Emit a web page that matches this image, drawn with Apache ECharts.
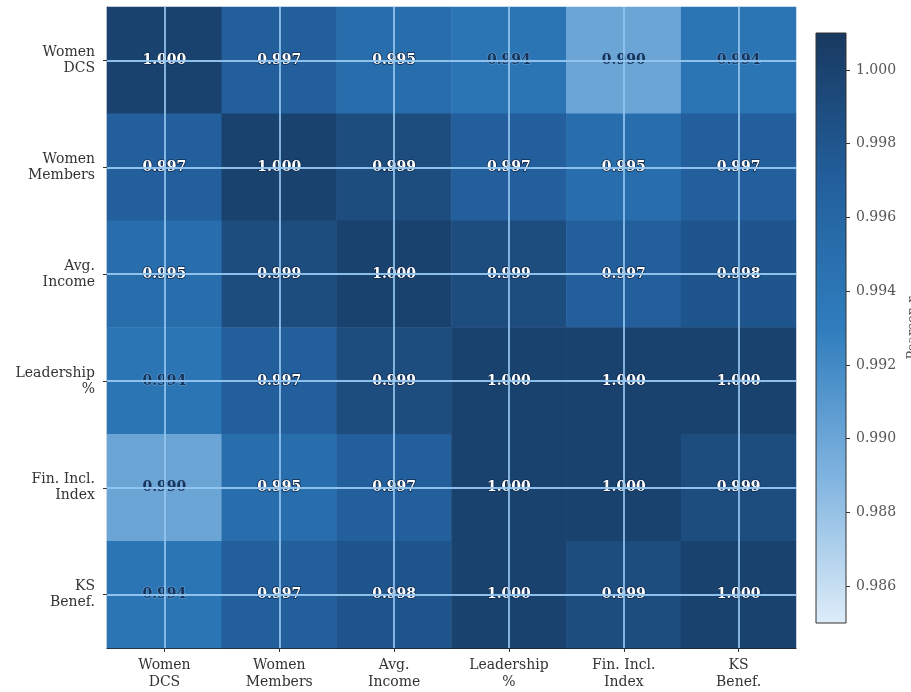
<!DOCTYPE html>
<html>
<head>
<meta charset="utf-8">
<script src="https://cdn.jsdelivr.net/npm/echarts@6/dist/echarts.min.js"></script>
<style>
  html, body { margin: 0; padding: 0; background: #fff; }
  #chart { width: 911px; height: 692px; }
</style>
</head>
<body>
<div id="chart"></div>
<script>
// Indicators compared in the correlation matrix
const variables = [
  'Women\nDCS',
  'Women\nMembers',
  'Avg.\nIncome',
  'Leadership\n%',
  'Fin. Incl.\nIndex',
  'KS\nBenef.'
];

// Pearson correlation coefficients, one row per indicator
const rowWomenDCS     = [1.000, 0.997, 0.995, 0.994, 0.990, 0.994];
const rowWomenMembers = [0.997, 1.000, 0.999, 0.997, 0.995, 0.997];
const rowAvgIncome    = [0.995, 0.999, 1.000, 0.999, 0.997, 0.998];
const rowLeadership   = [0.994, 0.997, 0.999, 1.000, 1.000, 1.000];
const rowFinIncl      = [0.990, 0.995, 0.997, 1.000, 1.000, 0.999];
const rowKSBenef      = [0.994, 0.997, 0.998, 1.000, 0.999, 1.000];
const corrRows = [rowWomenDCS, rowWomenMembers, rowAvgIncome, rowLeadership, rowFinIncl, rowKSBenef];

// Colour scale limits and colour bar tick values
const colorMin = 0.985;
const colorMax = 1.001;
const colorbarTicks = [0.986, 0.988, 0.990, 0.992, 0.994, 0.996, 0.998, 1.000];
const colorbarTitle = 'Pearson r';

// Sequential blue ramp, light to dark
const palette = ['#deedf9', '#7fb3df', '#2f7dbd', '#225f9c', '#183960'];

const serif = 'DejaVu Serif';
const labelThreshold = 0.995;

const cells = [];
corrRows.forEach((row, r) => row.forEach((v, c) => cells.push([c, r, v])));

const cellLabels = cells.map(d => ({
  value: d,
  label: d[2] >= labelThreshold
    ? { color: '#ffffff', textBorderColor: '#10294a', textBorderWidth: 1.6 }
    : { color: '#16335a', textBorderColor: 'rgba(110,160,210,0.6)', textBorderWidth: 1.6 }
}));

const chart = echarts.init(document.getElementById('chart'), null, { renderer: 'canvas' });

const option = {
  backgroundColor: '#ffffff',
  animation: false,
  textStyle: { fontFamily: serif },
  grid: [
    { left: 107, top: 7, width: 689, height: 641, containLabel: false },
    { left: 816, top: 33, width: 30, height: 590, containLabel: false }
  ],
  xAxis: [
    {
      type: 'category',
      gridIndex: 0,
      data: variables,
      position: 'bottom',
      axisLine: { show: true, onZero: false, lineStyle: { color: '#222', width: 1.2 } },
      axisTick: { show: true, alignWithLabel: true, length: 4, lineStyle: { color: '#333', width: 1 } },
      axisLabel: { interval: 0, fontFamily: serif, fontSize: 14, color: '#333', lineHeight: 17, margin: 9 },
      splitLine: { show: false }
    },
    { type: 'category', gridIndex: 1, data: ['bar'], show: false }
  ],
  yAxis: [
    {
      type: 'category',
      gridIndex: 0,
      data: variables,
      inverse: true,
      axisLine: { show: true, onZero: false, lineStyle: { color: '#222', width: 1.2 } },
      axisTick: { show: true, alignWithLabel: true, length: 4, lineStyle: { color: '#333', width: 1 } },
      axisLabel: { interval: 0, fontFamily: serif, fontSize: 14, color: '#333', lineHeight: 16, margin: 12, align: 'right' },
      splitLine: { show: false }
    },
    {
      type: 'value',
      gridIndex: 1,
      position: 'right',
      min: colorMin,
      max: colorMax,
      axisLine: { show: false },
      axisTick: { show: true, length: 4, customValues: colorbarTicks, lineStyle: { color: '#333' } },
      axisLabel: {
        customValues: colorbarTicks,
        formatter: v => v.toFixed(3),
        fontFamily: serif, fontSize: 14, color: '#555', margin: 10
      },
      splitLine: { show: false }
    }
  ],
  visualMap: {
    show: false,
    type: 'continuous',
    min: colorMin,
    max: colorMax,
    seriesIndex: 0,
    dimension: 2,
    inRange: { color: palette }
  },
  graphic: [
    {
      type: 'text',
      x: 913, y: 328,
      rotation: Math.PI / 2,
      style: {
        text: colorbarTitle,
        font: '13px "DejaVu Serif"',
        fill: '#555',
        align: 'center',
        verticalAlign: 'middle'
      }
    }
  ],
  series: [
    {
      type: 'heatmap',
      xAxisIndex: 0,
      yAxisIndex: 0,
      z: 2,
      data: cells,
      itemStyle: { borderWidth: 0 },
      emphasis: { disabled: true },
      markLine: {
        silent: true,
        symbol: 'none',
        animation: false,
        label: { show: false },
        lineStyle: { color: 'rgba(148,198,240,0.95)', width: 1.8, type: 'solid' },
        data: variables.map(v => ({ xAxis: v })).concat(variables.map(v => ({ yAxis: v })))
      }
    },
    {
      type: 'scatter',
      xAxisIndex: 0,
      yAxisIndex: 0,
      z: 4,
      symbolSize: 1,
      itemStyle: { color: 'rgba(0,0,0,0)' },
      silent: true,
      data: cellLabels,
      label: {
        show: true,
        position: 'inside',
        fontFamily: serif,
        fontWeight: 'bold',
        fontSize: 14,
        opacity: 1,
        formatter: p => p.value[2].toFixed(3)
      }
    },
    {
      type: 'custom',
      xAxisIndex: 1,
      yAxisIndex: 1,
      silent: true,
      data: [[0, colorMin, colorMax]],
      encode: { x: 0, y: [1, 2] },
      renderItem: (params, api) => {
        const lo = api.coord([0, api.value(1)]);
        const hi = api.coord([0, api.value(2)]);
        const cs = params.coordSys;
        return {
          type: 'rect',
          shape: { x: cs.x, y: hi[1], width: cs.width, height: lo[1] - hi[1] },
          style: {
            fill: new echarts.graphic.LinearGradient(0, 1, 0, 0,
              palette.map((c, i) => ({ offset: i / (palette.length - 1), color: c }))),
            stroke: '#333',
            lineWidth: 1
          }
        };
      }
    }
  ]
};

chart.setOption(option);
</script>
</body>
</html>
